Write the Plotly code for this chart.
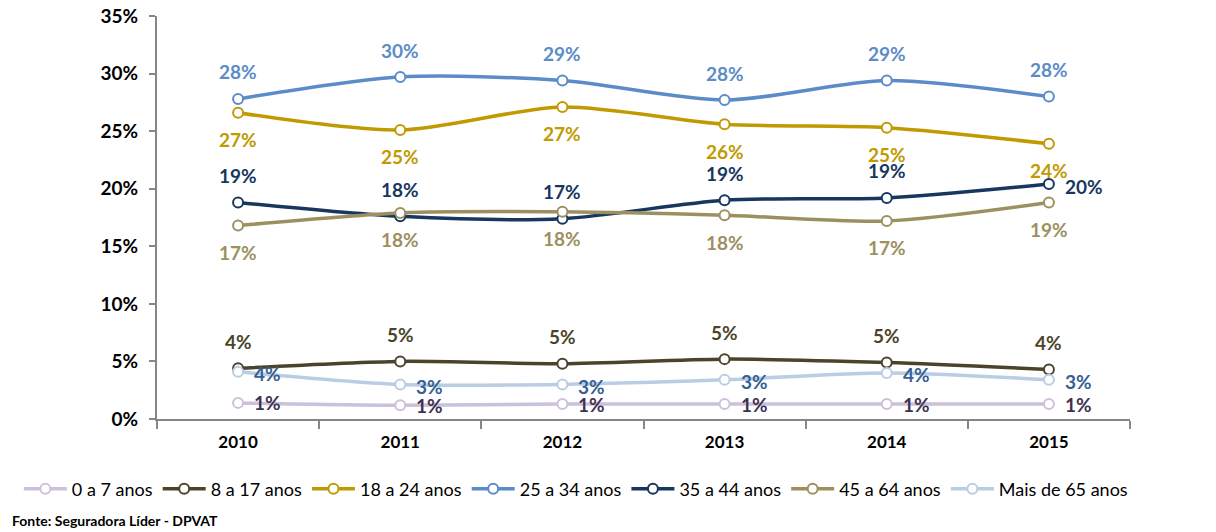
import plotly.graph_objects as go

years = ["2010", "2011", "2012", "2013", "2014", "2015"]
series_names = ["0 a 7 anos", "8 a 17 anos", "18 a 24 anos", "25 a 34 anos",
                "35 a 44 anos", "45 a 64 anos", "Mais de 65 anos"]
v_0_7 = [1.4, 1.2, 1.3, 1.3, 1.3, 1.3]
v_8_17 = [4.4, 5.0, 4.8, 5.2, 4.9, 4.3]
v_18_24 = [26.6, 25.1, 27.1, 25.6, 25.3, 23.9]
v_25_34 = [27.8, 29.7, 29.4, 27.7, 29.4, 28.0]
v_35_44 = [18.8, 17.6, 17.4, 19.0, 19.2, 20.4]
v_45_64 = [16.8, 17.9, 18.0, 17.7, 17.2, 18.8]
v_65 = [4.1, 3.0, 3.0, 3.4, 4.0, 3.4]

values = [v_0_7, v_8_17, v_18_24, v_25_34, v_35_44, v_45_64, v_65]
line_colors = ["#ccc1da", "#4a452a", "#c09a00", "#5b8cc8", "#17375e", "#9c9060", "#b9cde5"]
label_colors = ["#3f3151", "#4a452a", "#c09a00", "#5b8cc8", "#17375e", "#9c9060", "#366092"]
# label placement per series: 'above', 'below', 'right'
placement = ["right", "above", "below", "above", "above", "below", "right"]

FONT = "Lato"

fig = go.Figure()
for name, vals, lc in zip(series_names, values, line_colors):
    fig.add_trace(go.Scatter(
        x=years, y=vals, name=name, mode="lines+markers",
        line=dict(color=lc, width=3.5, shape="spline", smoothing=0.8),
        marker=dict(symbol="circle", size=10, color="white",
                    line=dict(color=lc, width=2)),
        cliponaxis=False,
    ))

annotations = []
for s, (vals, tc, pl) in enumerate(zip(values, label_colors, placement)):
    for i, v in enumerate(vals):
        p = pl
        if s == 4 and i == len(vals) - 1:
            p = "right"
        txt = f"{round(v):d}%"
        a = dict(x=i, y=v, xref="x", yref="y", text=txt, showarrow=False,
                 font=dict(family=FONT, size=19, color=tc, weight="bold"))
        if p == "above":
            a.update(yshift=27)
        elif p == "below":
            a.update(yshift=-27)
        else:
            a.update(xanchor="left", xshift=14, yshift=0 if s == 0 else -2)
        annotations.append(a)

annotations.append(dict(
    xref="paper", yref="paper", x=-0.151, y=-0.253, xanchor="left", yanchor="middle",
    text="Fonte: Seguradora Líder - DPVAT", showarrow=False,
    font=dict(family=FONT, size=14, color="black", weight="bold")))

fig.update_layout(
    width=1216, height=532,
    margin=dict(l=157, r=86, t=16, b=113),
    paper_bgcolor="white", plot_bgcolor="white",
    showlegend=True,
    legend=dict(orientation="h", x=-0.142, xanchor="left", y=-0.174, yanchor="middle",
                font=dict(family=FONT, size=18, color="black"),
                itemwidth=43, tracegroupgap=0, traceorder="normal"),
    annotations=annotations,
    xaxis=dict(type="category", range=[-0.5, 5.5], showgrid=False, automargin=False,
               showline=True, linecolor="#868686", linewidth=2,
               ticks="outside", tickson="boundaries", ticklen=8, tickcolor="#868686", tickwidth=2,
               ticklabelstandoff=7,
               tickfont=dict(family=FONT, size=17, color="black", weight="bold")),
    yaxis=dict(range=[0, 35], dtick=5, ticksuffix="%", showgrid=False, zeroline=False,
               automargin=False,
               showline=True, linecolor="#868686", linewidth=2,
               ticks="outside", ticklen=6, tickcolor="#868686", tickwidth=2,
               ticklabelstandoff=7,
               tickfont=dict(family=FONT, size=19, color="black", weight="bold")),
)

fig.write_html("out.html", config={"displayModeBar": False},
               post_script="document.body.style.margin='0';document.body.style.overflow='hidden';")
